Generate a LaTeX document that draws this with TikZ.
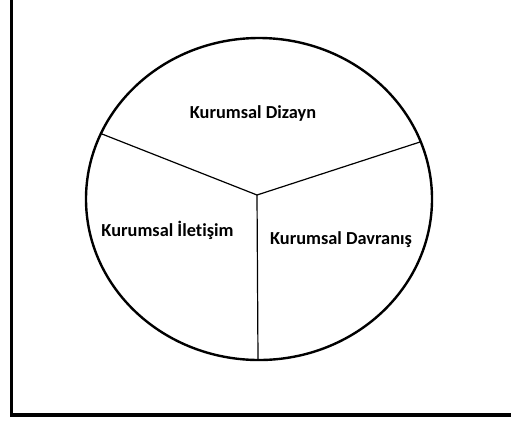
\documentclass[tikz,border=0pt]{standalone}
\usepackage{fontspec}
\setmainfont[Ligatures=NoCommon]{Carlito}
\begin{document}
\begin{tikzpicture}[x=1bp,y=-1bp,
  frame/.style={line width=3.5bp,line cap=rect},
  rim/.style={line width=2.4bp},
  divider/.style={line width=1.2bp},
  lbl/.style={font=\fontsize{18.4}{21}\selectfont\bfseries,inner sep=0pt,anchor=center}]
\useasboundingbox (0,0) rectangle (511,421);
\coordinate (ftop) at (11.5,0);
\coordinate (fcorner) at (11.5,415);
\coordinate (fright) at (511,415);
\draw[frame] (ftop) -- (fcorner) -- (fright);
\draw[rim] (259,199) ellipse [x radius=173, y radius=161];
\coordinate (c) at (257,195);
\coordinate (pl) at (102,134);
\coordinate (pr) at (420,142);
\coordinate (pb) at (258,360);
\draw[divider] (c) -- (pl);
\draw[divider] (c) -- (pr);
\draw[divider] (c) -- (pb);
\node[lbl] (dizayn) at (253,114) {Kurumsal Dizayn};
\node[lbl] (iletisim) at (167.5,230) {Kurumsal İletişim};
\node[lbl] (davranis) at (341,240) {Kurumsal Davranış};
\end{tikzpicture}
\end{document}
